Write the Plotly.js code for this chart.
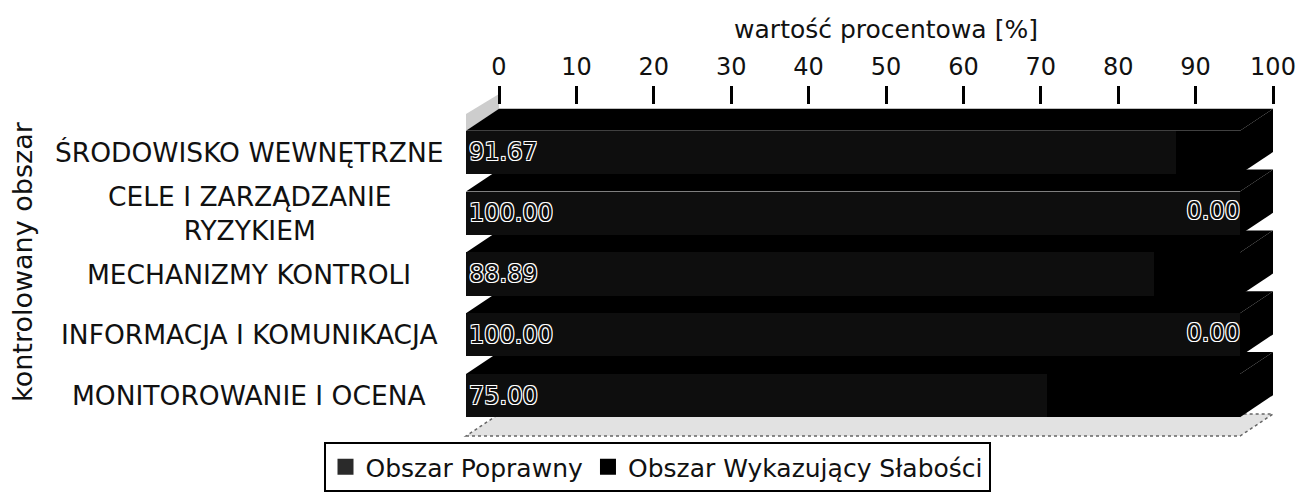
<!DOCTYPE html>
<html>
<head>
<meta charset="utf-8">
<script src="https://cdn.plot.ly/plotly-3.0.1.min.js"></script>
<style>html,body{margin:0;padding:0;background:#fff;}#chart{width:1300px;height:495px;}</style>
</head>
<body>
<div id="chart"></div>
<script>
// ---- data ----
const categories = ['ŚRODOWISKO WEWNĘTRZNE', 'CELE I ZARZĄDZANIE<br>RYZYKIEM', 'MECHANIZMY KONTROLI', 'INFORMACJA I KOMUNIKACJA', 'MONITOROWANIE I OCENA'];
const poprawny = [91.67, 100.00, 88.89, 100.00, 75.00];
const slabosci = [8.33, 0.00, 11.11, 0.00, 25.00];
const seriesNames = ['Obszar Poprawny', 'Obszar Wykazujący Słabości'];
const seriesColors = ['#0e0e0e', '#000000'];
const legendColors = ['#2a2a2a', '#000000'];
const xTitle = 'wartość procentowa [%]';
const yTitle = 'kontrolowany obszar';
const tickValues = [0, 10, 20, 30, 40, 50, 60, 70, 80, 90, 100];

// ---- geometry (pixels) ----
const W = 1300, H = 495;
const L = 466, R = 27, T = 104, B = 59;
const PW = W - L - R, PH = H - T - B;
const FRONT_R = 1240;           // pixel of 100 % on the front face
const DX = 33, DY = 22;         // 3D depth offset
const BAND_T = 122, BAND_B = 426;
const BARGAP = 0.29;
const fx = px => (px - L) / PW;
const fy = py => (H - B - py) / PH;
const xpx = v => L + v / 100 * (FRONT_R - L);
const band = (BAND_B - BAND_T) / categories.length;
const FONT = 'DejaVu Sans';
const outline = '1px 1px 0 #fff, -1px -1px 0 #fff, 1px -1px 0 #fff, -1px 1px 0 #fff';

const totals = poprawny.map((v, i) => v + slabosci[i]);

const shapes = [];
function poly(pts, fill, line) {
  const d = pts.map((p, k) => (k ? 'L' : 'M') + fx(p[0]).toFixed(5) + ',' + fy(p[1]).toFixed(5)).join(' ') + ' Z';
  shapes.push({type: 'path', xref: 'paper', yref: 'paper', path: d, fillcolor: fill,
               line: line || {width: 0}, layer: 'below'});
}
// floor
poly([[L, 436], [FRONT_R, 436], [FRONT_R + DX, 436 - DY], [L + DX, 436 - DY]], '#e2e2e2', {width: 1.5, color: '#666', dash: 'dot'});
// left wall top piece
poly([[L, 114], [L + DX, 94], [L + DX, 109], [L, 131]], '#cdcdcd');
// top and end faces of the 3D bars
categories.forEach((c, i) => {
  const cy = BAND_T + band * (i + 0.5);
  const half = band * (1 - BARGAP) / 2;
  const top = cy - half, bot = cy + half;
  const x0 = xpx(0), x1 = xpx(totals[i]);
  poly([[x0, top], [x1, top], [x1 + DX, top - DY], [x0 + DX, top - DY]], '#000');
  poly([[x1, top], [x1 + DX, top - DY], [x1 + DX, bot - DY], [x1, bot]], '#000');
});

const traces = [
  {type: 'bar', orientation: 'h', name: seriesNames[0], y: categories, x: poprawny, showlegend: false,
   marker: {color: seriesColors[0], line: {width: 0}},
   text: poprawny.map(v => v.toFixed(2)), textposition: 'inside', insidetextanchor: 'start',
   constraintext: 'none', textangle: 0,
   textfont: {family: FONT, size: 24, color: '#111', shadow: outline},
   hoverinfo: 'skip'},
  {type: 'bar', orientation: 'h', name: seriesNames[1], y: categories, x: slabosci, showlegend: false,
   marker: {color: seriesColors[1], line: {width: 0}},
   textposition: 'none', hoverinfo: 'skip'},
  {type: 'scatter', mode: 'text', showlegend: false, hoverinfo: 'skip', cliponaxis: false,
   x: totals.filter((t, i) => slabosci[i] === 0),
   y: categories.filter((c, i) => slabosci[i] === 0),
   text: slabosci.filter(v => v === 0).map(v => v.toFixed(2)),
   textposition: 'middle left',
   textfont: {family: FONT, size: 24, color: '#111', shadow: outline}},
  // invisible helper so the back (labelled) axis is drawn
  {type: 'scatter', mode: 'markers', xaxis: 'x2', yaxis: 'y', showlegend: false, hoverinfo: 'skip',
   x: [tickValues[0], tickValues[tickValues.length - 1]], y: [categories[0], categories[0]],
   marker: {opacity: 0, size: 1}}
];
// legend entries (larger square keys)
seriesNames.forEach((n, k) => traces.push({
  type: 'scatter', mode: 'markers', name: n, x: [null], y: [null], hoverinfo: 'skip',
  marker: {symbol: 'square', size: 16, color: legendColors[k], line: {width: 0}}
}));

const annotations = categories.map(c => ({
  xref: 'paper', yref: 'y', x: fx(249), y: c, text: c, showarrow: false,
  xanchor: 'center', yanchor: 'middle', align: 'center',
  font: {family: FONT, size: 26.5, color: '#111'}
}));
annotations.push({xref: 'paper', yref: 'paper', x: fx(22), y: fy(262), text: yTitle, textangle: -90,
  showarrow: false, xanchor: 'center', yanchor: 'middle', font: {family: FONT, size: 27, color: '#111'}});

const layout = {
  width: W, height: H,
  margin: {l: L, r: R, t: T, b: B, pad: 0, autoexpand: false},
  paper_bgcolor: '#ffffff', plot_bgcolor: 'rgba(0,0,0,0)',
  barmode: 'stack', bargap: BARGAP,
  font: {family: FONT, color: '#111'},
  showlegend: true,
  xaxis: {domain: [0, fx(FRONT_R)], range: [0, 100], visible: false, anchor: 'y', fixedrange: true},
  xaxis2: {domain: [fx(L + DX), 1], range: [0, 100], anchor: 'free', position: 1, side: 'top',
    tickvals: tickValues, ticktext: tickValues.map(String),
    ticks: 'outside', ticklen: 18, tickwidth: 3, tickcolor: '#000',
    showline: false, showgrid: false, zeroline: false, ticklabelstandoff: 1,
    tickfont: {family: FONT, size: 24, color: '#111'},
    title: {text: xTitle, font: {family: FONT, size: 25, color: '#111'}, standoff: 6}},
  yaxis: {domain: [fy(BAND_B), fy(BAND_T)], type: 'category', autorange: 'reversed', visible: false, anchor: 'x'},
  legend: {orientation: 'h', x: fx(657), xanchor: 'center', y: fy(492), yanchor: 'bottom',
    bordercolor: '#000', borderwidth: 2, bgcolor: '#fff', itemwidth: 30, traceorder: 'normal',
    itemsizing: 'trace',
    font: {family: FONT, size: 25, color: '#111'}},
  shapes: shapes,
  annotations: annotations
};

Plotly.newPlot('chart', traces, layout, {staticPlot: true, displayModeBar: false});
</script>
</body>
</html>
